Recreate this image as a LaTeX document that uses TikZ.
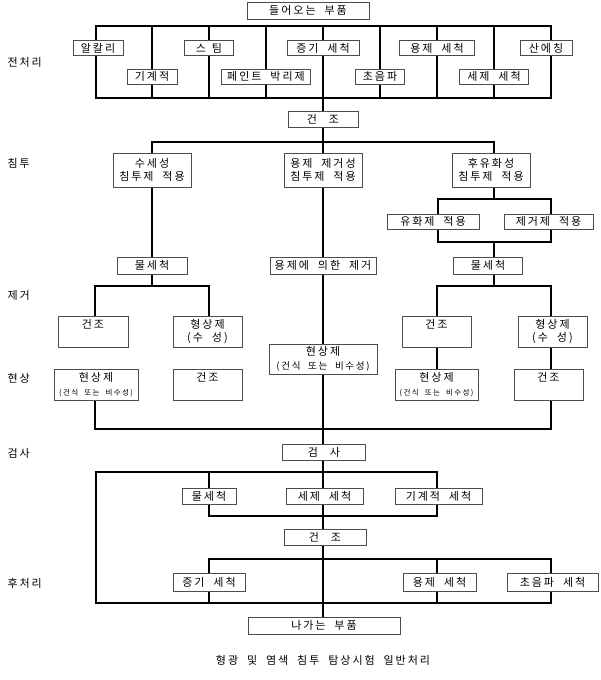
\documentclass[tikz,border=0pt]{standalone}
\usepackage{fontspec}
\newfontfamily\kr[LetterSpace=18,WordSpace=2]{Noto Sans CJK KR}
\usetikzlibrary{backgrounds}

\begin{document}
\begin{tikzpicture}[x=1pt,y=-1pt,
	box/.style={draw=black!70,fill=white,line width=0.8pt,inner sep=0pt,align=center,font=\kr\fontsize{11}{13.5}\selectfont},
	conn/.style={line width=1.6pt,line cap=rect},
	stage/.style={anchor=west,font=\kr\fontsize{11}{13}\selectfont}]
	\useasboundingbox (0,0) rectangle (600,680);
	% 전처리
	\node[box,minimum width=122pt,minimum height=17pt] (in) at (308,10.5) {들어오는 부품};
	\coordinate (pretop) at (96,26);
	\coordinate (prebot) at (551,98);
	\node[box,minimum width=50pt,minimum height=15pt] (alk) at (98,48) {알칼리};
	\node[box,minimum width=49pt,minimum height=15pt] (steam) at (209,48) {스\hspace{6pt}팀};
	\node[box,minimum width=72pt,minimum height=15pt] (vapor) at (323,48) {증기 세척};
	\node[box,minimum width=75pt,minimum height=15pt] (solv) at (437,48) {용제 세척};
	\node[box,minimum width=52pt,minimum height=15pt] (acid) at (546,48) {산에칭};
	\node[box,minimum width=50pt,minimum height=15pt] (mech) at (152,76.5) {기계적};
	\node[box,minimum width=89pt,minimum height=15pt] (paint) at (266,76.5) {페인트 박리제};
	\node[box,minimum width=49pt,minimum height=15pt] (ultra) at (380,76.5) {초음파};
	\node[box,minimum width=69pt,minimum height=15pt] (deter) at (494,76.5) {세제 세척};
	\node[box,minimum width=70pt,minimum height=16pt] (dry) at (323,119) {건\hspace{12pt}조};
	% 침투
	\node[box,minimum width=78pt,minimum height=34pt] (wash) at (152,170) {수세성\\침투제 적용};
	\node[box,minimum width=78pt,minimum height=34pt] (solvrem) at (323,170) {용제 제거성\\침투제 적용};
	\node[box,minimum width=78pt,minimum height=34pt] (post) at (491,170) {후유화성\\침투제 적용};
	\node[box,minimum width=92pt,minimum height=15pt] (emul) at (433,221.5) {유화제 적용};
	\node[box,minimum width=89pt,minimum height=15pt] (remv) at (548.5,221.5) {제거제 적용};
	\coordinate (pbl) at (152,142);
	\coordinate (pbr) at (494,142);
	\coordinate (eb) at (438,199);
	\coordinate (ej) at (551,242);
	% 제거
	\node[box,minimum width=70pt,minimum height=17pt] (rinsel) at (152,265.5) {물세척};
	\node[box,minimum width=106pt,minimum height=17pt] (wipe) at (323,265.5) {용제에 의한 제거};
	\node[box,minimum width=69pt,minimum height=17pt] (rinser) at (488,265.5) {물세척};
	\node[box,minimum width=70pt,minimum height=31pt] (drya) at (93,331.5) {건조\\\phantom{건}};
	\node[box,minimum width=69pt,minimum height=31pt] (deva) at (207.5,331.5) {형상제\\(수 성)};
	\node[box,minimum width=69pt,minimum height=31pt] (dryc) at (436.5,331.5) {건조\\\phantom{건}};
	\node[box,minimum width=69pt,minimum height=31pt] (devc) at (552.5,331.5) {형상제\\(수 성)};
	\coordinate (lb1) at (95,286);
	\coordinate (lb2) at (209,286);
	\coordinate (rb1) at (437,286);
	\coordinate (rb2) at (551,286);
	% 현상
	\node[box,minimum width=108pt,minimum height=30pt] (deve) at (323,359) {현상제\\{\fontsize{9.5}{11}\selectfont(건식 또는 비수성)}};
	\node[box,minimum width=84pt,minimum height=31pt] (devb) at (96,384.5) {현상제\\{\fontsize{7.5}{9}\selectfont(건식 또는 비수성)}};
	\node[box,minimum width=69pt,minimum height=31pt] (dryb) at (207.5,384.5) {건조\\\phantom{건}};
	\node[box,minimum width=83pt,minimum height=31pt] (devd) at (436.5,384.5) {현상제\\{\fontsize{7.5}{9}\selectfont(건식 또는 비수성)}};
	\node[box,minimum width=69pt,minimum height=31pt] (dryd) at (548.5,384.5) {건조\\\phantom{건}};
	\coordinate (jn1) at (95,429);
	\coordinate (jn2) at (551,429);
	% 검사, 후처리
	\node[box,minimum width=83pt,minimum height=16pt] (insp) at (324,452) {검\hspace{12pt}사};
	\node[box,minimum width=54pt,minimum height=16pt] (rinse2) at (209,496) {물세척};
	\node[box,minimum width=77pt,minimum height=16pt] (deter2) at (324.5,496) {세제 세척};
	\node[box,minimum width=87pt,minimum height=16pt] (mech2) at (438.5,496) {기계적 세척};
	\node[box,minimum width=82pt,minimum height=16pt] (dry2) at (325,537) {건\hspace{12pt}조};
	\node[box,minimum width=72pt,minimum height=18pt] (vapor2) at (209,582) {증기 세척};
	\node[box,minimum width=73pt,minimum height=18pt] (solv2) at (439.5,582) {용제 세척};
	\node[box,minimum width=91pt,minimum height=18pt] (ultra2) at (552.5,582) {초음파 세척};
	\node[box,minimum width=152pt,minimum height=17pt] (out) at (324,625.5) {나가는 부품};
	\coordinate (ft1) at (96,472);
	\coordinate (ft2) at (437,472);
	\coordinate (ib) at (209,516);
	\coordinate (br1) at (209,559);
	\coordinate (br2) at (551,559);
	\coordinate (fb) at (551,603);
	% 단계
	\node[stage] (s1) at (4,62) {전처리};
	\node[stage] (s2) at (4,163) {침투};
	\node[stage] (s3) at (4,295) {제거};
	\node[stage] (s4) at (4,378) {현상};
	\node[stage] (s5) at (4,453) {검사};
	\node[stage] (s6) at (4,583) {후처리};
	\node[font=\kr\fontsize{11}{13}\selectfont] (cap) at (323,660) {형광 및 염색 침투 탐상시험 일반처리};

	\begin{scope}[on background layer]
		\draw[conn] (pretop) rectangle (prebot);
		\foreach \n in {mech,steam,paint,vapor,ultra,solv,deter}
			\draw[conn] (\n |- pretop) -- (\n |- prebot);
		\draw[conn] (dry.north |- prebot) -- (dry.north);
		\draw[conn] (dry.south) -- (solvrem.north);
		\draw[conn] (wash.north) -- (pbl) -- (pbr) -- (pbr |- post.north);
		\draw[conn] (pbr |- post.south) -- (pbr |- eb);
		\draw[conn] (eb) rectangle (ej);
		\draw[conn] (pbr |- ej) -- (pbr |- rinser.north);
		\draw[conn] (wash.south) -- (rinsel.north);
		\draw[conn] (rinsel.south) -- (rinsel.south |- lb1);
		\draw[conn] (lb1 |- drya.north) -- (lb1) -- (lb2) -- (lb2 |- deva.north);
		\draw[conn] (pbr |- rinser.south) -- (pbr |- rb1);
		\draw[conn] (rb1 |- dryc.north) -- (rb1) -- (rb2) -- (rb2 |- devc.north);
		\draw[conn] (rb1 |- dryc.south) -- (rb1 |- devd.north);
		\draw[conn] (rb2 |- devc.south) -- (rb2 |- dryd.north);
		\draw[conn] (jn1 |- devb.south) -- (jn1) -- (jn2) -- (jn2 |- dryd.south);
		\draw[conn] (solvrem.south) -- (wipe.north);
		\draw[conn] (wipe.south) -- (deve.north);
		\draw[conn] (deve.south) -- (deve.south |- insp.north);
		\draw[conn] (deve.south |- insp.south) -- (deve.south |- out.north);
		\draw[conn] (ft2) -- (ft1) -- (ft1 |- fb) -- (fb) -- (br2) -- (br1) -- (br1 |- fb);
		\draw[conn] (ib |- ft1) -- (ib) -- (ft2 |- ib) -- (ft2);
		\draw[conn] (ft2 |- br1) -- (ft2 |- fb);
	\end{scope}
\end{tikzpicture}
\end{document}
